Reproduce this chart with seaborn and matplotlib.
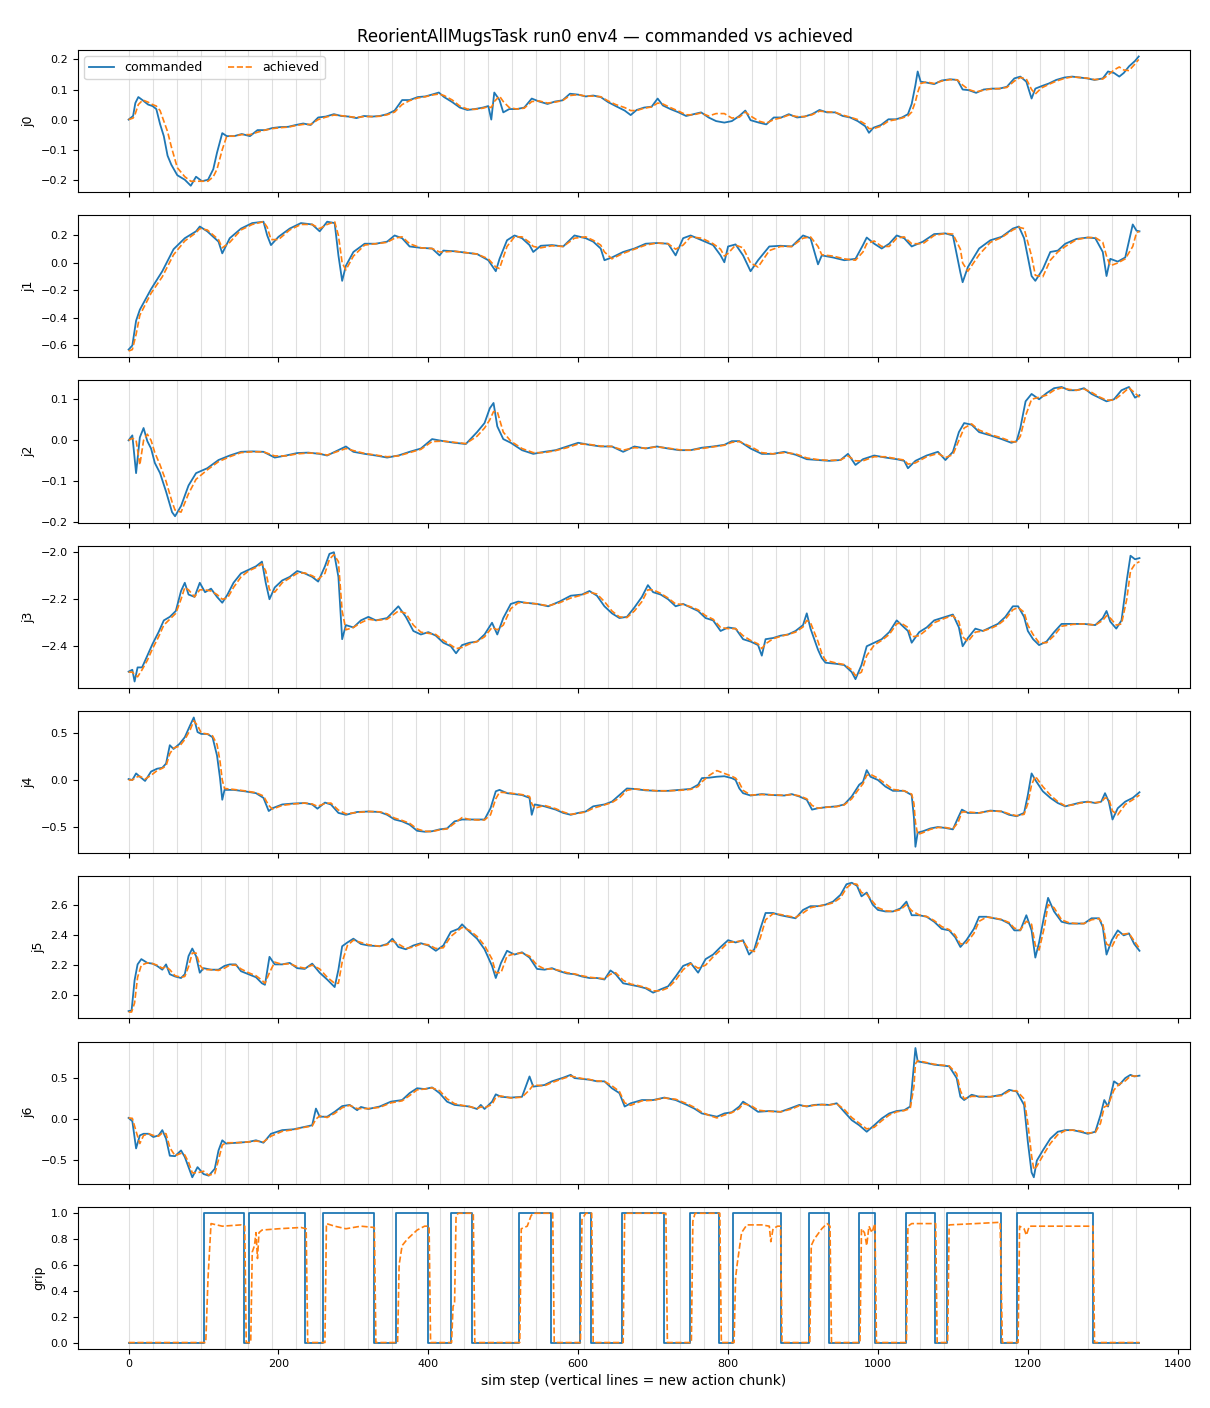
import matplotlib
matplotlib.use("Agg")
import matplotlib.pyplot as plt
import seaborn as sns

# ---- data (sim step, joint value) ----
chunk_starts = [0, 32, 64, 96, 128, 160, 192, 224, 256, 288, 320, 352, 384, 416,
                448, 480, 512, 544, 576, 608, 640, 672, 704, 736, 768, 800, 832,
                864, 896, 928, 960, 992, 1024, 1056, 1088, 1120, 1152, 1184, 1216,
                1248, 1280, 1312, 1344]

j0_steps = [0, 6, 9, 13, 19, 26, 32, 37, 42, 47,
            52, 57, 65, 75, 83, 90, 98, 106, 113, 118,
            125, 131, 141, 151, 162, 172, 182, 192, 202, 213,
            223, 233, 243, 253, 263, 274, 284, 294, 304, 314,
            325, 335, 345, 355, 365, 375, 386, 396, 406, 414,
            421, 432, 442, 452, 462, 473, 480, 484, 488, 495,
            500, 508, 518, 528, 538, 548, 559, 569, 579, 589,
            600, 610, 620, 630, 640, 650, 662, 670, 678, 688,
            698, 706, 713, 723, 734, 744, 754, 764, 774, 784,
            795, 805, 815, 823, 830, 841, 851, 861, 871, 881,
            892, 902, 912, 922, 932, 943, 953, 963, 973, 983,
            988, 994, 1004, 1014, 1024, 1032, 1040, 1045, 1050, 1053,
            1057, 1065, 1075, 1085, 1096, 1106, 1113, 1121, 1131, 1141,
            1152, 1162, 1172, 1182, 1190, 1198, 1205, 1210, 1218, 1228,
            1238, 1249, 1259, 1269, 1279, 1289, 1300, 1307, 1315, 1322,
            1328, 1335, 1343, 1348]
j0_cmd = [0.0, 0.012, 0.055, 0.075, 0.064, 0.05, 0.045, 0.035, -0.015, -0.055,
          -0.12, -0.15, -0.185, -0.20, -0.22, -0.19, -0.205, -0.20, -0.165, -0.11,
          -0.045, -0.055, -0.055, -0.048, -0.055, -0.035, -0.035, -0.028, -0.025, -0.024,
          -0.018, -0.013, -0.018, 0.007, 0.01, 0.018, 0.012, 0.01, 0.005, 0.012,
          0.01, 0.012, 0.018, 0.03, 0.065, 0.065, 0.075, 0.077, 0.084, 0.09,
          0.075, 0.058, 0.04, 0.032, 0.035, 0.04, 0.045, 0.0, 0.09, 0.065,
          0.024, 0.035, 0.035, 0.04, 0.07, 0.06, 0.052, 0.06, 0.064, 0.086,
          0.083, 0.077, 0.08, 0.075, 0.058, 0.045, 0.03, 0.015, 0.032, 0.04,
          0.043, 0.07, 0.047, 0.035, 0.024, 0.012, 0.018, 0.024, 0.007, -0.005,
          -0.01, -0.005, 0.012, 0.03, -0.002, -0.01, -0.016, 0.007, 0.007, 0.018,
          0.007, 0.01, 0.018, 0.032, 0.024, 0.024, 0.012, 0.007, -0.005, -0.022,
          -0.044, -0.027, -0.018, 0.001, 0.001, 0.007, 0.018, 0.052, 0.115, 0.16,
          0.126, 0.123, 0.118, 0.13, 0.134, 0.132, 0.1, 0.098, 0.089, 0.1,
          0.103, 0.103, 0.109, 0.137, 0.143, 0.126, 0.07, 0.103, 0.111, 0.12,
          0.132, 0.14, 0.143, 0.14, 0.137, 0.132, 0.137, 0.16, 0.155, 0.143,
          0.155, 0.177, 0.195, 0.21]
j0_ach = [0.0, 0.005, 0.02, 0.05, 0.065, 0.058, 0.05, 0.045, 0.03, -0.005,
          -0.04, -0.09, -0.16, -0.19, -0.205, -0.205, -0.205, -0.205, -0.19, -0.165,
          -0.1, -0.055, -0.055, -0.05, -0.05, -0.042, -0.035, -0.03, -0.027, -0.025,
          -0.02, -0.016, -0.016, 0.0, 0.008, 0.015, 0.013, 0.01, 0.007, 0.01,
          0.01, 0.011, 0.016, 0.025, 0.05, 0.063, 0.072, 0.076, 0.082, 0.085,
          0.08, 0.065, 0.045, 0.035, 0.034, 0.038, 0.043, 0.04, 0.06, 0.078,
          0.06, 0.04, 0.035, 0.038, 0.06, 0.062, 0.055, 0.058, 0.063, 0.08,
          0.083, 0.078, 0.078, 0.076, 0.062, 0.05, 0.04, 0.03, 0.03, 0.038,
          0.042, 0.055, 0.052, 0.04, 0.028, 0.016, 0.016, 0.022, 0.012, 0.02,
          0.02, 0.005, 0.008, 0.025, 0.012, -0.005, -0.012, 0.0, 0.006, 0.015,
          0.01, 0.01, 0.016, 0.028, 0.026, 0.024, 0.015, 0.008, 0.0, -0.015,
          -0.03, -0.03, -0.022, -0.005, 0.0, 0.005, 0.012, 0.025, 0.06, 0.09,
          0.12, 0.125, 0.12, 0.128, 0.133, 0.132, 0.115, 0.1, 0.092, 0.098,
          0.102, 0.103, 0.107, 0.128, 0.14, 0.135, 0.1, 0.085, 0.105, 0.117,
          0.128, 0.137, 0.142, 0.14, 0.138, 0.133, 0.135, 0.148, 0.165, 0.175,
          0.165, 0.163, 0.185, 0.2]

j1_steps = [0, 5, 10, 15, 30, 45, 60, 75, 90, 95,
            105, 120, 125, 135, 150, 165, 180, 185, 190, 200,
            215, 230, 245, 255, 265, 275, 280, 285, 290, 300,
            315, 330, 345, 355, 365, 375, 390, 405, 415, 420,
            435, 450, 465, 480, 490, 495, 505, 515, 525, 535,
            540, 550, 565, 580, 595, 610, 620, 630, 635, 645,
            660, 675, 690, 705, 720, 730, 740, 750, 765, 780,
            790, 795, 800, 810, 820, 830, 840, 855, 870, 885,
            900, 910, 920, 925, 940, 955, 970, 980, 985, 995,
            1005, 1015, 1025, 1035, 1045, 1060, 1075, 1090, 1100, 1110,
            1113, 1120, 1135, 1150, 1165, 1180, 1188, 1195, 1205, 1210,
            1220, 1230, 1240, 1250, 1265, 1280, 1290, 1300, 1305, 1310,
            1320, 1330, 1340, 1345, 1349]
j1_cmd = [-0.63, -0.60, -0.42, -0.34, -0.19, -0.06, 0.10, 0.18, 0.23, 0.265,
          0.23, 0.155, 0.07, 0.18, 0.25, 0.29, 0.30, 0.20, 0.13, 0.19,
          0.25, 0.29, 0.28, 0.23, 0.30, 0.29, 0.055, -0.13, -0.02, 0.08,
          0.14, 0.14, 0.155, 0.20, 0.18, 0.12, 0.11, 0.105, 0.055, 0.09,
          0.085, 0.075, 0.065, 0.02, -0.06, 0.03, 0.165, 0.20, 0.18, 0.13,
          0.08, 0.125, 0.13, 0.12, 0.20, 0.18, 0.155, 0.105, 0.02, 0.04,
          0.08, 0.105, 0.14, 0.145, 0.14, 0.055, 0.18, 0.20, 0.165, 0.13,
          0.055, 0.005, 0.12, 0.135, 0.055, -0.06, 0.02, 0.12, 0.125, 0.12,
          0.20, 0.18, -0.01, 0.055, 0.04, 0.02, 0.03, 0.13, 0.185, 0.14,
          0.105, 0.14, 0.20, 0.18, 0.12, 0.155, 0.21, 0.215, 0.20, -0.07,
          -0.14, -0.03, 0.105, 0.165, 0.19, 0.25, 0.265, 0.18, -0.095, -0.13,
          -0.045, 0.08, 0.09, 0.14, 0.175, 0.185, 0.18, 0.08, -0.095, 0.03,
          0.01, 0.04, 0.28, 0.235, 0.23]
j1_ach = [-0.64, -0.63, -0.52, -0.38, -0.22, -0.10, 0.06, 0.16, 0.22, 0.25,
          0.24, 0.17, 0.11, 0.15, 0.24, 0.28, 0.30, 0.26, 0.17, 0.17,
          0.24, 0.28, 0.28, 0.25, 0.28, 0.30, 0.20, 0.0, -0.05, 0.05,
          0.13, 0.14, 0.15, 0.18, 0.19, 0.14, 0.11, 0.105, 0.08, 0.08,
          0.085, 0.075, 0.065, 0.03, -0.03, -0.04, 0.12, 0.19, 0.19, 0.15,
          0.12, 0.11, 0.125, 0.12, 0.18, 0.19, 0.165, 0.13, 0.08, 0.03,
          0.07, 0.10, 0.13, 0.145, 0.14, 0.10, 0.13, 0.19, 0.18, 0.14,
          0.10, 0.05, 0.07, 0.13, 0.11, 0.0, -0.03, 0.09, 0.12, 0.12,
          0.18, 0.19, 0.12, 0.06, 0.05, 0.03, 0.02, 0.08, 0.14, 0.16,
          0.12, 0.12, 0.18, 0.19, 0.14, 0.14, 0.20, 0.215, 0.21, 0.10,
          0.0, -0.06, 0.06, 0.15, 0.185, 0.24, 0.26, 0.25, 0.05, -0.09,
          -0.10, 0.02, 0.08, 0.12, 0.17, 0.185, 0.185, 0.15, 0.05, -0.02,
          0.0, 0.03, 0.12, 0.22, 0.23]

j2_steps = [0, 5, 10, 15, 20, 25, 30, 35, 42, 50,
            58, 62, 70, 80, 90, 105, 120, 135, 150, 165,
            180, 195, 210, 225, 240, 255, 265, 290, 300, 315,
            330, 345, 360, 375, 390, 405, 420, 435, 450, 465,
            475, 482, 487, 492, 500, 510, 525, 540, 555, 570,
            585, 600, 615, 630, 645, 660, 675, 690, 705, 720,
            735, 750, 765, 780, 795, 805, 815, 830, 845, 860,
            875, 890, 905, 920, 935, 950, 960, 970, 980, 995,
            1010, 1025, 1035, 1040, 1050, 1065, 1080, 1090, 1100, 1108,
            1115, 1125, 1135, 1150, 1165, 1178, 1185, 1190, 1197, 1205,
            1215, 1225, 1235, 1245, 1255, 1265, 1275, 1285, 1295, 1305,
            1315, 1325, 1335, 1343, 1349]
j2_cmd = [0.0, 0.012, -0.08, 0.007, 0.03, -0.002, -0.02, -0.055, -0.08, -0.125,
          -0.175, -0.185, -0.16, -0.11, -0.08, -0.068, -0.048, -0.037, -0.028, -0.027,
          -0.028, -0.042, -0.037, -0.031, -0.03, -0.033, -0.037, -0.015, -0.028, -0.033,
          -0.037, -0.042, -0.037, -0.028, -0.02, 0.003, -0.002, -0.006, -0.009, 0.02,
          0.042, 0.078, 0.091, 0.034, 0.003, -0.006, -0.024, -0.033, -0.028, -0.024,
          -0.015, -0.006, -0.011, -0.015, -0.015, -0.028, -0.015, -0.02, -0.015, -0.02,
          -0.024, -0.024, -0.018, -0.015, -0.011, -0.002, -0.002, -0.02, -0.033, -0.033,
          -0.028, -0.035, -0.046, -0.048, -0.05, -0.048, -0.033, -0.06, -0.046, -0.037,
          -0.042, -0.046, -0.05, -0.068, -0.05, -0.037, -0.028, -0.048, -0.028, 0.02,
          0.042, 0.038, 0.02, 0.012, 0.003, -0.006, -0.002, 0.03, 0.095, 0.113,
          0.1, 0.115, 0.127, 0.13, 0.122, 0.122, 0.127, 0.113, 0.104, 0.095,
          0.1, 0.122, 0.13, 0.104, 0.11]
j2_ach = [0.0, 0.005, 0.0, -0.06, 0.0, 0.015, 0.0, -0.03, -0.06, -0.1,
          -0.15, -0.17, -0.175, -0.13, -0.095, -0.072, -0.052, -0.04, -0.03, -0.028,
          -0.028, -0.038, -0.038, -0.033, -0.031, -0.032, -0.036, -0.02, -0.025, -0.032,
          -0.036, -0.04, -0.038, -0.03, -0.022, -0.003, -0.002, -0.005, -0.008, 0.01,
          0.03, 0.05, 0.07, 0.07, 0.02, -0.002, -0.02, -0.03, -0.03, -0.025,
          -0.018, -0.009, -0.01, -0.014, -0.015, -0.024, -0.018, -0.019, -0.016, -0.019,
          -0.023, -0.024, -0.02, -0.016, -0.012, -0.005, -0.003, -0.015, -0.03, -0.033,
          -0.03, -0.033, -0.043, -0.047, -0.049, -0.048, -0.038, -0.05, -0.05, -0.04,
          -0.04, -0.045, -0.048, -0.058, -0.055, -0.04, -0.032, -0.042, -0.035, 0.0,
          0.03, 0.04, 0.025, 0.014, 0.006, -0.003, -0.004, 0.01, 0.06, 0.1,
          0.105, 0.11, 0.122, 0.128, 0.124, 0.122, 0.125, 0.117, 0.106, 0.098,
          0.098, 0.112, 0.128, 0.115, 0.105]

j3_steps = [0, 5, 8, 12, 18, 25, 32, 40, 47, 55,
            63, 70, 75, 80, 88, 95, 102, 110, 118, 125,
            132, 140, 150, 160, 170, 178, 183, 188, 195, 205,
            215, 225, 235, 245, 253, 262, 268, 274, 280, 285,
            290, 300, 310, 320, 330, 345, 360, 370, 380, 390,
            400, 410, 420, 430, 437, 445, 455, 465, 475, 485,
            492, 500, 510, 520, 530, 545, 560, 575, 590, 605,
            615, 625, 635, 645, 655, 665, 675, 685, 693, 700,
            710, 720, 730, 740, 750, 760, 770, 780, 790, 800,
            810, 820, 830, 840, 845, 850, 860, 870, 880, 890,
            900, 905, 910, 920, 925, 930, 945, 955, 965, 970,
            978, 985, 995, 1005, 1015, 1025, 1030, 1040, 1045, 1055,
            1065, 1075, 1090, 1100, 1108, 1113, 1120, 1130, 1140, 1150,
            1160, 1170, 1180, 1187, 1195, 1200, 1207, 1215, 1225, 1235,
            1245, 1260, 1275, 1290, 1300, 1305, 1310, 1318, 1325, 1332,
            1337, 1343, 1349]
j3_cmd = [-2.508, -2.50, -2.55, -2.49, -2.49, -2.44, -2.39, -2.34, -2.29, -2.275,
          -2.25, -2.165, -2.13, -2.18, -2.19, -2.13, -2.17, -2.155, -2.19, -2.215,
          -2.18, -2.13, -2.09, -2.075, -2.06, -2.04, -2.13, -2.20, -2.15, -2.12,
          -2.105, -2.08, -2.09, -2.105, -2.125, -2.06, -2.007, -2.0, -2.105, -2.37,
          -2.31, -2.32, -2.29, -2.275, -2.29, -2.28, -2.23, -2.275, -2.335, -2.35,
          -2.34, -2.355, -2.385, -2.40, -2.43, -2.395, -2.385, -2.38, -2.35, -2.30,
          -2.35, -2.28, -2.22, -2.21, -2.215, -2.22, -2.23, -2.21, -2.185, -2.18,
          -2.165, -2.185, -2.23, -2.26, -2.28, -2.275, -2.235, -2.19, -2.14, -2.17,
          -2.18, -2.20, -2.23, -2.22, -2.235, -2.25, -2.28, -2.29, -2.335, -2.32,
          -2.325, -2.37, -2.38, -2.395, -2.44, -2.37, -2.365, -2.355, -2.35, -2.335,
          -2.31, -2.26, -2.325, -2.415, -2.45, -2.47, -2.475, -2.48, -2.51, -2.54,
          -2.48, -2.40, -2.385, -2.37, -2.34, -2.29, -2.305, -2.335, -2.385, -2.34,
          -2.32, -2.29, -2.275, -2.265, -2.32, -2.40, -2.365, -2.325, -2.335, -2.32,
          -2.305, -2.275, -2.23, -2.23, -2.275, -2.335, -2.37, -2.395, -2.38, -2.34,
          -2.305, -2.305, -2.305, -2.31, -2.28, -2.25, -2.295, -2.325, -2.29, -2.12,
          -2.015, -2.03, -2.025]
j3_ach = [-2.51, -2.51, -2.52, -2.53, -2.50, -2.46, -2.41, -2.36, -2.31, -2.285,
          -2.26, -2.2, -2.15, -2.16, -2.19, -2.16, -2.16, -2.165, -2.18, -2.2,
          -2.195, -2.15, -2.105, -2.08, -2.065, -2.05, -2.08, -2.16, -2.17, -2.13,
          -2.11, -2.09, -2.088, -2.1, -2.115, -2.09, -2.03, -2.01, -2.04, -2.25,
          -2.33, -2.32, -2.3, -2.285, -2.29, -2.285, -2.25, -2.26, -2.31, -2.34,
          -2.345, -2.35, -2.375, -2.395, -2.41, -2.405, -2.39, -2.38, -2.36, -2.32,
          -2.33, -2.31, -2.24, -2.215, -2.215, -2.22, -2.228, -2.215, -2.195, -2.182,
          -2.17, -2.178, -2.21, -2.25, -2.275, -2.278, -2.25, -2.21, -2.16, -2.16,
          -2.175, -2.195, -2.22, -2.222, -2.232, -2.245, -2.27, -2.285, -2.32, -2.325,
          -2.325, -2.355, -2.375, -2.39, -2.41, -2.39, -2.368, -2.358, -2.35, -2.34,
          -2.318, -2.29, -2.3, -2.38, -2.43, -2.46, -2.472, -2.478, -2.5, -2.525,
          -2.51, -2.44, -2.395, -2.375, -2.35, -2.305, -2.3, -2.32, -2.36, -2.355,
          -2.33, -2.3, -2.28, -2.27, -2.295, -2.36, -2.38, -2.34, -2.335, -2.325,
          -2.31, -2.285, -2.245, -2.235, -2.255, -2.31, -2.35, -2.385, -2.385, -2.355,
          -2.315, -2.307, -2.305, -2.31, -2.29, -2.27, -2.28, -2.31, -2.305, -2.2,
          -2.08, -2.05, -2.04]

j4_steps = [0, 5, 10, 15, 22, 30, 38, 45, 50, 55,
            60, 68, 75, 82, 87, 92, 97, 105, 112, 118,
            122, 125, 128, 140, 155, 170, 180, 187, 192, 205,
            220, 235, 245, 252, 262, 270, 280, 290, 305, 320,
            335, 345, 355, 365, 375, 385, 395, 405, 415, 425,
            435, 445, 455, 465, 475, 483, 490, 495, 505, 515,
            525, 535, 538, 542, 555, 570, 580, 590, 600, 610,
            620, 635, 645, 655, 665, 675, 690, 705, 720, 735,
            750, 760, 765, 775, 785, 795, 805, 810, 815, 820,
            830, 845, 860, 875, 885, 895, 905, 912, 920, 930,
            945, 955, 965, 975, 980, 985, 990, 1000, 1010, 1020,
            1035, 1045, 1048, 1050, 1053, 1060, 1070, 1080, 1090, 1100,
            1107, 1112, 1120, 1135, 1150, 1165, 1175, 1185, 1195, 1200,
            1205, 1210, 1220, 1230, 1240, 1250, 1260, 1270, 1280, 1290,
            1298, 1303, 1308, 1313, 1320, 1330, 1340, 1349]
j4_cmd = [0.01, 0.0, 0.07, 0.035, -0.01, 0.09, 0.12, 0.13, 0.175, 0.37,
          0.33, 0.385, 0.455, 0.58, 0.665, 0.51, 0.49, 0.49, 0.455, 0.26,
          0.02, -0.21, -0.105, -0.105, -0.12, -0.14, -0.19, -0.33, -0.30, -0.26,
          -0.25, -0.245, -0.26, -0.305, -0.24, -0.26, -0.35, -0.37, -0.34, -0.335,
          -0.34, -0.37, -0.42, -0.44, -0.475, -0.54, -0.55, -0.545, -0.525, -0.515,
          -0.44, -0.42, -0.42, -0.42, -0.42, -0.30, -0.12, -0.105, -0.14, -0.15,
          -0.16, -0.19, -0.37, -0.26, -0.28, -0.315, -0.35, -0.37, -0.35, -0.335,
          -0.28, -0.26, -0.23, -0.16, -0.09, -0.095, -0.11, -0.115, -0.115, -0.105,
          -0.095, -0.05, 0.02, 0.025, 0.035, 0.04, 0.02, 0.0, -0.09, -0.14,
          -0.165, -0.15, -0.16, -0.165, -0.15, -0.175, -0.21, -0.315, -0.30, -0.29,
          -0.28, -0.26, -0.175, -0.05, -0.02, 0.105, 0.035, 0.0, -0.07, -0.115,
          -0.115, -0.16, -0.40, -0.71, -0.56, -0.545, -0.515, -0.50, -0.51, -0.525,
          -0.40, -0.315, -0.35, -0.35, -0.325, -0.335, -0.37, -0.385, -0.35, -0.16,
          0.07, 0.0, -0.12, -0.19, -0.245, -0.28, -0.26, -0.24, -0.23, -0.245,
          -0.23, -0.14, -0.23, -0.42, -0.30, -0.23, -0.19, -0.13]
j4_ach = [0.0, 0.0, 0.03, 0.04, 0.01, 0.05, 0.1, 0.125, 0.15, 0.28,
          0.34, 0.36, 0.43, 0.53, 0.63, 0.58, 0.5, 0.49, 0.47, 0.38,
          0.2, 0.0, -0.09, -0.1, -0.115, -0.135, -0.17, -0.27, -0.31, -0.27,
          -0.255, -0.245, -0.255, -0.28, -0.25, -0.245, -0.32, -0.36, -0.345, -0.335,
          -0.338, -0.36, -0.405, -0.43, -0.46, -0.52, -0.545, -0.548, -0.53, -0.52,
          -0.46, -0.4, -0.42, -0.425, -0.425, -0.37, -0.2, -0.13, -0.135, -0.145,
          -0.155, -0.175, -0.25, -0.3, -0.27, -0.305, -0.34, -0.365, -0.355, -0.34,
          -0.3, -0.265, -0.24, -0.19, -0.11, -0.095, -0.105, -0.115, -0.115, -0.11,
          -0.1, -0.07, -0.02, 0.05, 0.1, 0.07, 0.04, 0.02, -0.03, -0.11,
          -0.16, -0.155, -0.158, -0.163, -0.155, -0.168, -0.2, -0.27, -0.3, -0.29,
          -0.283, -0.265, -0.2, -0.09, -0.04, 0.05, 0.06, 0.02, -0.04, -0.1,
          -0.115, -0.15, -0.25, -0.45, -0.58, -0.56, -0.525, -0.505, -0.505, -0.52,
          -0.45, -0.34, -0.34, -0.35, -0.33, -0.333, -0.36, -0.38, -0.365, -0.25,
          -0.05, 0.04, -0.07, -0.16, -0.23, -0.275, -0.265, -0.245, -0.235, -0.24,
          -0.235, -0.19, -0.2, -0.33, -0.37, -0.26, -0.21, -0.16]

j5_steps = [0, 4, 8, 12, 17, 25, 32, 38, 45, 50,
            55, 62, 70, 75, 80, 85, 90, 95, 100, 110,
            120, 128, 135, 143, 150, 160, 170, 178, 182, 188,
            195, 205, 215, 225, 235, 245, 255, 265, 275, 280,
            285, 292, 300, 310, 320, 335, 345, 352, 360, 370,
            380, 390, 400, 410, 420, 430, 440, 445, 455, 465,
            475, 485, 490, 497, 505, 515, 525, 535, 545, 555,
            565, 575, 585, 595, 605, 615, 625, 635, 643, 650,
            660, 670, 680, 690, 700, 710, 720, 730, 740, 750,
            760, 770, 780, 790, 800, 810, 820, 828, 835, 843,
            850, 860, 870, 880, 890, 900, 910, 920, 930, 940,
            950, 958, 965, 972, 978, 985, 993, 1000, 1010, 1020,
            1030, 1038, 1045, 1055, 1065, 1075, 1085, 1095, 1103, 1110,
            1118, 1128, 1135, 1145, 1155, 1165, 1175, 1182, 1190, 1198,
            1205, 1210, 1215, 1222, 1227, 1235, 1245, 1255, 1265, 1275,
            1285, 1295, 1300, 1305, 1312, 1320, 1328, 1335, 1342, 1349]
j5_cmd = [1.896, 1.90, 2.10, 2.205, 2.24, 2.215, 2.21, 2.195, 2.17, 2.205,
          2.14, 2.125, 2.115, 2.14, 2.26, 2.31, 2.26, 2.15, 2.18, 2.17,
          2.17, 2.195, 2.205, 2.205, 2.16, 2.14, 2.12, 2.08, 2.07, 2.255,
          2.205, 2.205, 2.215, 2.18, 2.175, 2.21, 2.15, 2.105, 2.055, 2.17,
          2.325, 2.35, 2.375, 2.34, 2.33, 2.325, 2.34, 2.375, 2.32, 2.305,
          2.33, 2.345, 2.33, 2.295, 2.33, 2.42, 2.44, 2.47, 2.42, 2.375,
          2.305, 2.195, 2.115, 2.215, 2.295, 2.27, 2.285, 2.25, 2.175, 2.17,
          2.18, 2.16, 2.145, 2.14, 2.125, 2.115, 2.115, 2.105, 2.165, 2.14,
          2.08, 2.07, 2.06, 2.047, 2.018, 2.04, 2.06, 2.125, 2.195, 2.215,
          2.15, 2.24, 2.27, 2.32, 2.365, 2.35, 2.365, 2.27, 2.305, 2.44,
          2.545, 2.545, 2.53, 2.52, 2.51, 2.565, 2.59, 2.59, 2.60, 2.62,
          2.665, 2.735, 2.745, 2.725, 2.655, 2.68, 2.60, 2.565, 2.555, 2.555,
          2.575, 2.62, 2.53, 2.53, 2.52, 2.487, 2.44, 2.43, 2.385, 2.32,
          2.365, 2.44, 2.52, 2.52, 2.51, 2.50, 2.475, 2.43, 2.43, 2.53,
          2.43, 2.25, 2.35, 2.53, 2.645, 2.555, 2.487, 2.475, 2.475, 2.475,
          2.51, 2.51, 2.453, 2.27, 2.365, 2.43, 2.397, 2.41, 2.34, 2.295]
j5_ach = [1.89, 1.89, 1.95, 2.12, 2.2, 2.215, 2.21, 2.2, 2.18, 2.19,
          2.17, 2.13, 2.12, 2.125, 2.19, 2.28, 2.28, 2.2, 2.17, 2.17,
          2.165, 2.18, 2.2, 2.2, 2.175, 2.15, 2.13, 2.1, 2.08, 2.15,
          2.22, 2.205, 2.21, 2.19, 2.18, 2.2, 2.175, 2.12, 2.08, 2.08,
          2.22, 2.33, 2.365, 2.35, 2.335, 2.325, 2.335, 2.36, 2.34, 2.31,
          2.32, 2.34, 2.335, 2.31, 2.315, 2.39, 2.43, 2.45, 2.43, 2.39,
          2.33, 2.24, 2.15, 2.15, 2.26, 2.275, 2.28, 2.26, 2.2, 2.175,
          2.175, 2.165, 2.15, 2.142, 2.13, 2.12, 2.115, 2.11, 2.14, 2.15,
          2.1, 2.075, 2.065, 2.052, 2.03, 2.03, 2.05, 2.1, 2.17, 2.21,
          2.18, 2.2, 2.255, 2.3, 2.35, 2.355, 2.36, 2.3, 2.29, 2.38,
          2.5, 2.54, 2.535, 2.525, 2.515, 2.545, 2.58, 2.59, 2.598, 2.612,
          2.645, 2.71, 2.74, 2.735, 2.68, 2.67, 2.62, 2.58, 2.56, 2.555,
          2.567, 2.6, 2.56, 2.532, 2.522, 2.495, 2.455, 2.435, 2.4, 2.34,
          2.345, 2.41, 2.49, 2.518, 2.512, 2.502, 2.482, 2.445, 2.432, 2.49,
          2.47, 2.33, 2.3, 2.45, 2.6, 2.58, 2.5, 2.48, 2.475, 2.475,
          2.5, 2.508, 2.475, 2.34, 2.32, 2.4, 2.405, 2.41, 2.36, 2.31]

j6_steps = [0, 5, 10, 15, 20, 27, 33, 40, 45, 50,
            55, 62, 70, 75, 80, 85, 92, 100, 107, 115,
            120, 125, 130, 145, 160, 170, 180, 190, 205, 220,
            235, 245, 250, 255, 265, 275, 285, 295, 305, 310,
            320, 335, 350, 365, 375, 385, 395, 405, 415, 425,
            435, 445, 455, 465, 470, 475, 485, 490, 497, 510,
            525, 535, 540, 555, 565, 580, 590, 595, 605, 615,
            625, 635, 645, 655, 662, 670, 685, 700, 715, 730,
            745, 755, 765, 775, 785, 795, 805, 815, 820, 830,
            840, 855, 870, 885, 895, 905, 915, 925, 935, 945,
            955, 965, 975, 985, 995, 1005, 1015, 1025, 1035, 1043,
            1048, 1050, 1053, 1065, 1075, 1085, 1095, 1105, 1110, 1115,
            1125, 1135, 1150, 1165, 1175, 1185, 1195, 1200, 1205, 1208,
            1212, 1220, 1230, 1240, 1250, 1260, 1270, 1280, 1290, 1297,
            1302, 1307, 1315, 1322, 1330, 1337, 1342, 1349]
j6_cmd = [0.015, -0.025, -0.36, -0.20, -0.18, -0.18, -0.22, -0.20, -0.135, -0.24,
          -0.45, -0.455, -0.385, -0.465, -0.59, -0.715, -0.59, -0.675, -0.695, -0.61,
          -0.385, -0.26, -0.30, -0.29, -0.28, -0.26, -0.29, -0.18, -0.135, -0.125,
          -0.095, -0.075, 0.13, 0.03, 0.03, 0.09, 0.16, 0.175, 0.11, 0.15,
          0.125, 0.155, 0.215, 0.235, 0.32, 0.38, 0.37, 0.39, 0.32, 0.215,
          0.175, 0.165, 0.155, 0.125, 0.175, 0.125, 0.215, 0.305, 0.275, 0.265,
          0.275, 0.525, 0.40, 0.42, 0.465, 0.51, 0.545, 0.505, 0.495, 0.485,
          0.465, 0.465, 0.38, 0.32, 0.155, 0.195, 0.235, 0.235, 0.265, 0.235,
          0.175, 0.13, 0.07, 0.05, 0.03, 0.07, 0.085, 0.155, 0.215, 0.155,
          0.09, 0.10, 0.09, 0.14, 0.175, 0.155, 0.175, 0.18, 0.175, 0.195,
          0.09, -0.012, -0.075, -0.155, -0.075, 0.008, 0.07, 0.10, 0.11, 0.155,
          0.67, 0.875, 0.71, 0.69, 0.67, 0.66, 0.65, 0.505, 0.275, 0.235,
          0.30, 0.275, 0.275, 0.30, 0.36, 0.34, 0.175, -0.28, -0.655, -0.715,
          -0.51, -0.385, -0.24, -0.155, -0.135, -0.135, -0.155, -0.18, -0.155, 0.05,
          0.235, 0.155, 0.465, 0.42, 0.505, 0.545, 0.525, 0.535]
j6_ach = [0.015, 0.01, -0.15, -0.3, -0.2, -0.18, -0.2, -0.21, -0.17, -0.18,
          -0.35, -0.45, -0.42, -0.44, -0.53, -0.66, -0.66, -0.64, -0.69, -0.67,
          -0.5, -0.32, -0.29, -0.29, -0.28, -0.27, -0.28, -0.21, -0.15, -0.13,
          -0.1, -0.085, 0.0, 0.04, 0.02, 0.07, 0.14, 0.17, 0.13, 0.13,
          0.13, 0.145, 0.2, 0.225, 0.29, 0.36, 0.37, 0.385, 0.35, 0.25,
          0.19, 0.17, 0.155, 0.13, 0.15, 0.14, 0.18, 0.27, 0.285, 0.26,
          0.27, 0.36, 0.42, 0.41, 0.45, 0.5, 0.53, 0.52, 0.5, 0.488,
          0.47, 0.465, 0.41, 0.34, 0.2, 0.17, 0.225, 0.232, 0.26, 0.245,
          0.19, 0.145, 0.085, 0.045, 0.015, 0.05, 0.08, 0.13, 0.19, 0.17,
          0.11, 0.095, 0.09, 0.125, 0.165, 0.16, 0.17, 0.178, 0.175, 0.19,
          0.12, 0.02, -0.05, -0.12, -0.1, -0.02, 0.05, 0.09, 0.105, 0.13,
          0.4, 0.68, 0.72, 0.695, 0.675, 0.665, 0.655, 0.56, 0.35, 0.25,
          0.28, 0.28, 0.275, 0.29, 0.345, 0.35, 0.25, -0.05, -0.45, -0.62,
          -0.58, -0.45, -0.3, -0.19, -0.14, -0.135, -0.145, -0.17, -0.165, -0.05,
          0.15, 0.17, 0.36, 0.43, 0.47, 0.53, 0.53, 0.53]

# gripper: commanded is binary open/close, switch steps
grip_on = [101, 161, 260, 357, 430, 521, 602, 659, 749, 807, 908, 975, 1037, 1092, 1186]
grip_off = [154, 236, 327, 400, 458, 564, 617, 715, 788, 870, 935, 996, 1076, 1164, 1287]
last_step = 1349

grip_ach_steps = [0, 103, 106, 110, 125, 150, 155, 157, 163, 165,
                  168, 170, 172, 174, 178, 200, 230, 237, 239, 262,
                  264, 275, 290, 310, 328, 330, 359, 361, 365, 372,
                  385, 395, 401, 403, 431, 433, 435, 437, 440, 460,
                  462, 522, 524, 532, 537, 540, 566, 568, 603, 605,
                  610, 618, 620, 660, 662, 717, 719, 751, 753, 756,
                  789, 791, 808, 810, 812, 818, 825, 845, 855, 857,
                  860, 866, 870, 872, 909, 911, 915, 925, 932, 936,
                  938, 976, 978, 982, 985, 988, 992, 996, 998, 1038,
                  1040, 1045, 1077, 1079, 1093, 1095, 1130, 1163, 1166, 1187,
                  1189, 1195, 1198, 1202, 1220, 1287, 1289, 1349]
grip_ach = [0, 0, 0.5, 0.92, 0.9, 0.91, 0.9, 0, 0, 0.7,
            0.75, 0.85, 0.65, 0.85, 0.87, 0.88, 0.89, 0.88, 0, 0,
            0.92, 0.9, 0.88, 0.9, 0.89, 0, 0, 0.6, 0.75, 0.8,
            0.87, 0.9, 0.9, 0, 0, 0.28, 0.3, 0.98, 1.0, 1.0,
            0, 0, 0.88, 0.9, 0.98, 1.0, 1.0, 0, 0, 0.95,
            1.0, 1.0, 0, 0, 1.0, 1.0, 0, 0, 0.94, 1.0,
            1.0, 0, 0, 0.5, 0.6, 0.85, 0.91, 0.91, 0.9, 0.78,
            0.88, 0.9, 0.9, 0, 0, 0.75, 0.8, 0.88, 0.92, 0.9,
            0, 0, 0.88, 0.85, 0.75, 0.9, 0.85, 0.92, 0, 0,
            0.9, 0.92, 0.92, 0, 0, 0.91, 0.92, 0.93, 0, 0,
            0.9, 0.88, 0.83, 0.9, 0.9, 0.9, 0, 0]

joints = {
    "j0": (j0_steps, j0_cmd, j0_ach),
    "j1": (j1_steps, j1_cmd, j1_ach),
    "j2": (j2_steps, j2_cmd, j2_ach),
    "j3": (j3_steps, j3_cmd, j3_ach),
    "j4": (j4_steps, j4_cmd, j4_ach),
    "j5": (j5_steps, j5_cmd, j5_ach),
    "j6": (j6_steps, j6_cmd, j6_ach),
}

# step function for the commanded gripper
grip_cmd_steps = [0]
grip_cmd = [0]
for s, e in zip(grip_on, grip_off):
    grip_cmd_steps += [s, e]
    grip_cmd += [1, 0]
grip_cmd_steps.append(last_step)
grip_cmd.append(0)

fig, axes = plt.subplots(8, 1, figsize=(12.1, 14.08), sharex=True)
fig.subplots_adjust(left=0.0645, right=0.9835, top=0.9645, bottom=0.0419, hspace=0.162)

line_kw = dict(estimator=None, sort=False, legend=False)

for ax, (name, (st, cmd, ach)) in zip(axes[:7], joints.items()):
    for c in chunk_starts:
        ax.axvline(c, color="gray", alpha=0.25, lw=0.8, zorder=0)
    sns.lineplot(x=st, y=cmd, ax=ax, color="C0", linewidth=1.3, label="commanded", **line_kw)
    sns.lineplot(x=st, y=ach, ax=ax, color="C1", linewidth=1.2, linestyle="--",
                 label="achieved", **line_kw)
    ax.set_ylabel(name, fontsize=9)

ax = axes[7]
for c in chunk_starts:
    ax.axvline(c, color="gray", alpha=0.25, lw=0.8, zorder=0)
sns.lineplot(x=grip_cmd_steps, y=grip_cmd, ax=ax, color="C0", linewidth=1.3,
             drawstyle="steps-post", **line_kw)
sns.lineplot(x=grip_ach_steps, y=grip_ach, ax=ax, color="C1", linewidth=1.2,
             linestyle="--", **line_kw)
ax.set_ylabel("grip", fontsize=9)
ax.set_xlabel("sim step (vertical lines = new action chunk)", fontsize=10)

for a in axes:
    a.tick_params(labelsize=8)

axes[0].legend(loc="upper left", ncol=2, fontsize=9)
fig.suptitle("ReorientAllMugsTask run0 env4 — commanded vs achieved", fontsize=12, y=0.98)

fig.savefig("out.png", dpi=100)
